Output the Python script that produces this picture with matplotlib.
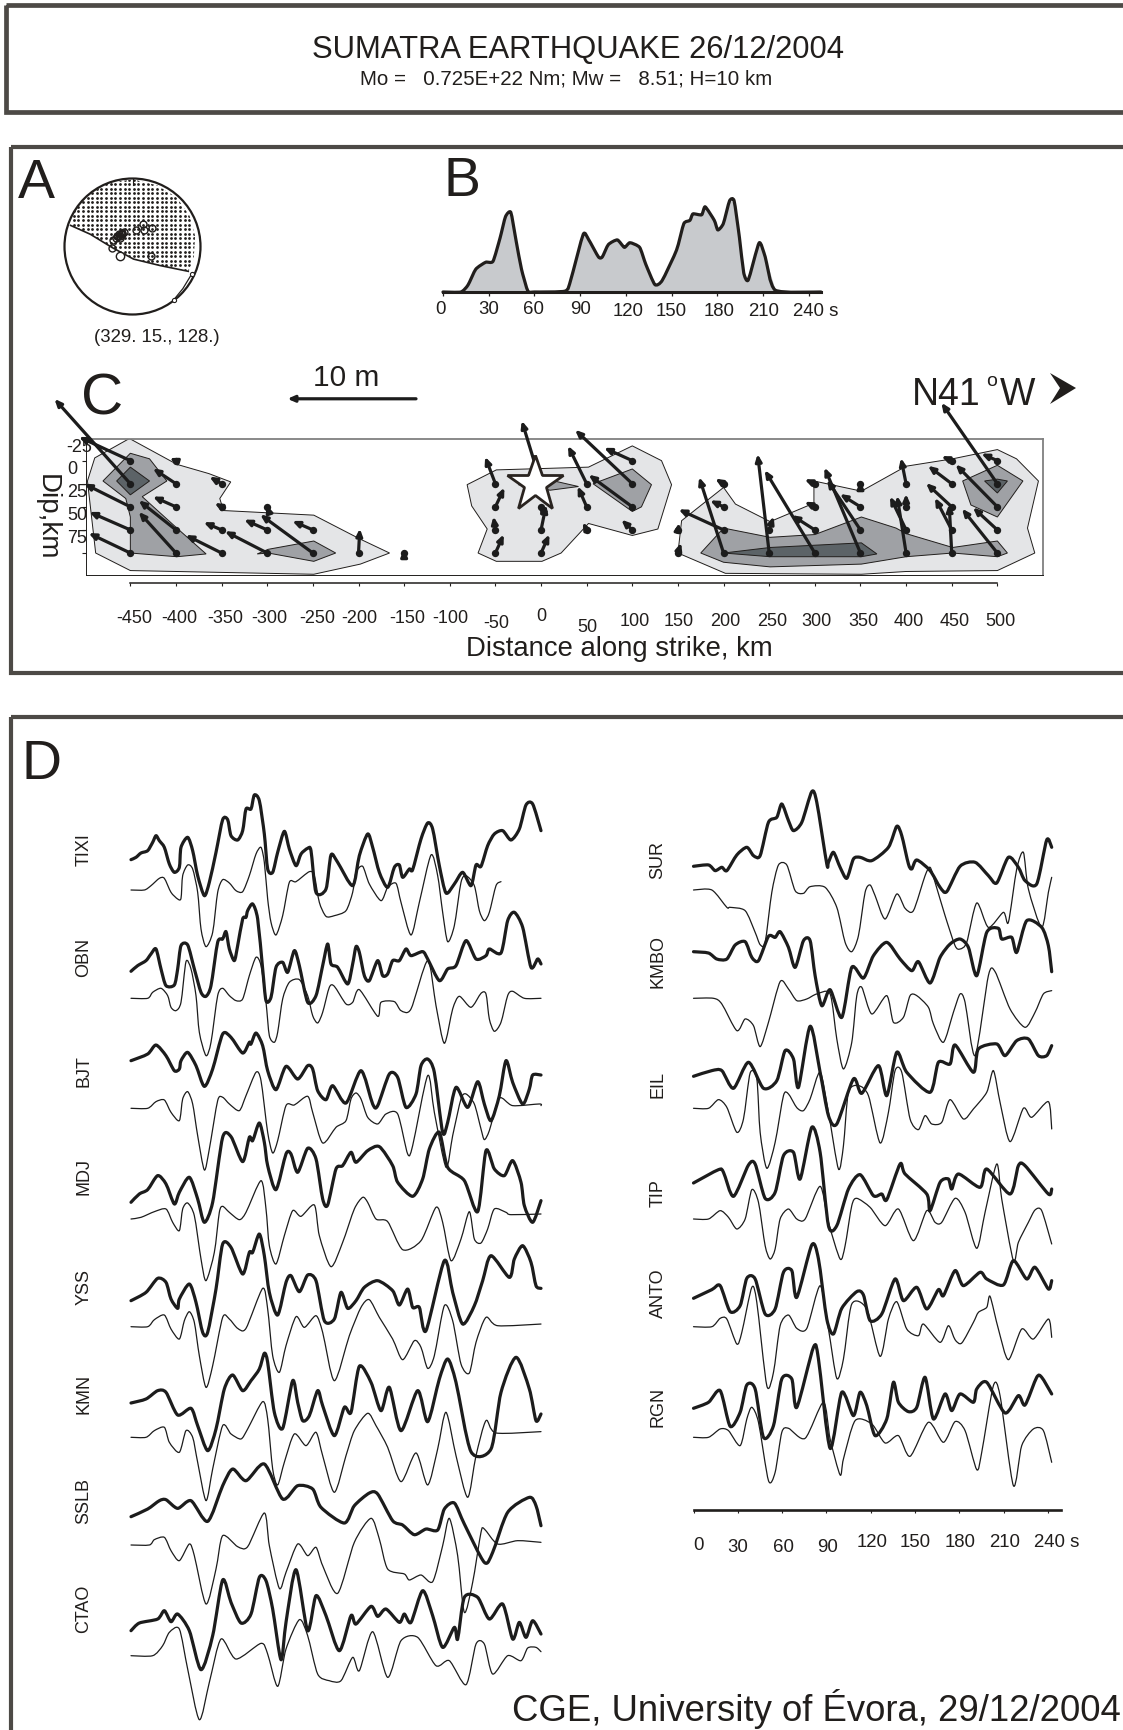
import matplotlib
matplotlib.use('Agg')
import matplotlib.pyplot as plt
from matplotlib.patches import Polygon, Circle, Rectangle, FancyArrowPatch, PathPatch
from matplotlib.path import Path
import numpy as np

W, H = 1123, 1731
INK = '#211e1c'
FRAME = '#4d4a46'
plt.rcParams['font.family'] = ['Liberation Sans', 'DejaVu Sans']

# --- panel A: focal mechanism (unit circle)
nodal_area = [(-0.91, 0.31), (-0.62, 0.18), (-0.30, -0.015), (0.015, -0.185), (0.405, -0.28), (0.82, -0.365),
              (0.90, -0.185), (0.92, 0.156), (0.84, 0.45), (0.65, 0.72), (0.36, 0.90), (0.015, 0.985),
              (-0.375, 0.937), (-0.67, 0.74), (-0.86, 0.52)]
nodal_line = [(-0.91, 0.31), (-0.62, 0.18), (-0.30, -0.015), (0.015, -0.185), (0.405, -0.28), (0.82, -0.365)]
polarity_points = [(-0.25, 0.13), (-0.23, 0.16), (-0.205, 0.18), (-0.18, 0.16), (-0.155, 0.205), (-0.19, 0.13),
                   (-0.155, 0.18), (-0.28, 0.10), (-0.13, 0.215), (-0.21, 0.15), (-0.17, 0.19), (0.05, 0.245), (0.16, 0.33), (0.175, 0.245),
                   (0.28, 0.265), (-0.30, -0.015), (0.275, -0.146)]
polarity_small = [(0.87, -0.405), (0.61, -0.78)]
polarity_white = [(-0.19, -0.137)]
mechanism_label = '(329. 15., 128.)'

# --- panel B: source time function
stf_time = [0, 11.7, 16.4, 21.5, 28, 32.8, 37.5, 41, 44.5, 48, 51.5, 55.7, 60, 80.2, 83.8, 92, 95.5, 102, 104.5,
            108.5, 114.4, 119, 122.6, 129, 133, 139, 143.8, 153.2, 158, 162, 164, 169.7, 172, 178, 180.3, 183.9,
            188, 191, 194.5, 197.3, 200.3, 207.4, 211.4, 218, 248]
stf_amp = [0, 0, 7.5, 24.5, 32, 33, 58.5, 81, 85.6, 54.7, 24.5, 1, 0, 1, 13, 62, 56.5, 37.7, 37.7,
           51, 56, 48, 53, 48, 30, 8, 12.4, 45, 73.5, 77, 84, 83, 91.6, 77, 66.7, 73.5,
           98, 98, 58.4, 20.7, 13, 52.8, 37.7, 2, 0]
stf_ticks = [0, 30, 60, 90, 120, 150, 180, 210, 240]
stf_labels = ['0', '30', '60', '90', '120', '150', '180', '210', '240 s']

# --- panel C: slip model
strike_ticks = [-450, -400, -350, -300, -250, -200, -150, -100, -50, 0, 50, 100, 150, 200, 250, 300, 350, 400, 450, 500]
dip_ticks = [-25, 0, 25, 50, 75]
light_left = [(-489, -28), (-451, -49), (-399, -21), (-364, -11), (-340, -2), (-352, 16), (-348, 29), (-249, 34),
              (-198, 60), (-166, 75), (-198, 87), (-249, 98), (-450, 94), (-488, 75), (-497, -3)]
light_centre = [(-81, 1), (-49, -15), (52, -18), (100, -41), (132, -25), (143, 1), (128, 49), (100, 56), (52, 43),
                (22, 75), (1, 84), (-49, 84), (-69, 75), (-59, 49), (-76, 24)]
light_right = [(150, 75), (154, 40), (200, 4), (213, 22), (251, 41), (299, 21), (299, -3), (351, 8), (400, -19),
               (451, -27), (500, -37), (521, -27), (545, -3), (533, 48), (541, 75), (500, 94), (400, 95), (351, 98), (202, 97)]
mid_left = [(-450, -33), (-429, -27), (-410, -3), (-437, 14), (-399, 48), (-367, 76), (-399, 79), (-450, 75),
            (-450, 36), (-455, 16), (-480, -3)]
mid_left2 = [(-311, 76), (-299, 71), (-249, 62), (-225, 75), (-249, 84), (-299, 75)]
mid_centre = [(-25, 1), (10, -4), (41, 3), (10, 7)]
mid_centre2 = [(57, 0), (100, -16), (121, 1), (110, 25), (100, 30)]
mid_right = [(175, 75), (200, 48), (251, 58), (300, 55), (351, 36), (389, 48), (400, 54), (451, 69), (500, 62),
             (511, 75), (500, 79), (451, 75), (400, 79), (351, 87), (251, 90), (200, 85)]
mid_right2 = [(462, -3), (500, -20), (528, -3), (500, 36), (471, 23)]
dark_left = [(-450, -18), (-429, -3), (-450, 12), (-465, -3)]
dark_right = [(200, 75), (251, 69), (351, 64), (368, 76), (351, 79), (251, 79)]
dark_right2 = [(486, -3), (500, -5), (511, -3), (500, 10)]

# distance km, dip km, slip along strike m, slip up m
slip_vectors = [(-450, -25, -4.0, 1.85), (-450, 0, -5.9, 6.6), (-450, 25, -3.6, 1.8), (-450, 50, -3.2, 1.4), (-450, 75, -3.25, 1.55),
                (-400, -25, -0.5, 0.2), (-400, 0, -1.8, 1.2), (-400, 25, -1.8, 0.8), (-400, 50, -2.9, 2.3), (-400, 75, -2.9, 3.2),
                (-350, 0, -0.95, 0.55), (-350, 25, -0.55, 0.3), (-350, 50, -1.4, 0.6), (-350, 75, -2.8, 1.4),
                (-300, 25, -0.05, 0.15), (-300, 50, -1.8, 0.8), (-300, 75, -3.3, 1.7),
                (-250, 50, -1.6, 0.7), (-250, 75, -4.1, 3.0), (-200, 75, 0.1, 1.9), (-150, 75, 0, 0.3),
                (-50, 0, -0.8, 2.1), (-50, 25, 0.7, 1.5), (-50, 50, -0.15, 1.05), (-50, 75, 0.65, 1.45),
                (0, 0, -1.5, 4.9), (0, 25, -0.1, 0.2), (0, 50, 0.4, 1.95), (0, 75, 0.65, 1.45),
                (50, 0, -1.45, 2.95), (50, 25, -0.7, 1.6), (50, 50, -0.3, 0.6),
                (100, -25, -2.2, 1.0), (100, 0, -4.45, 4.2), (100, 25, -3.4, 2.5), (100, 50, -0.85, 0.8),
                (150, 50, 0.1, 0.55), (150, 75, 0.25, 0.8),
                (200, 0, -0.65, 0.4), (200, 25, -1.05, 0.5), (200, 50, -3.5, 1.6), (200, 75, -1.9, 5.9),
                (250, 50, 0.35, 1.05), (250, 75, -0.9, 7.7),
                (300, 0, -0.8, 0.35), (300, 25, -0.8, 0.4), (300, 50, -1.8, 1.15), (300, 75, -3.9, 6.45),
                (350, 0, 0, 0.2), (350, 25, -1.6, 1.0), (350, 50, -2.6, 3.9), (350, 75, -2.8, 6.65),
                (400, 0, -0.4, 2.0), (400, 25, 0, 1.0), (400, 50, -1.25, 2.6), (400, 75, -0.7, 4.45),
                (450, -25, -0.8, 0.35), (450, 0, -1.85, 1.4), (450, 25, -2.0, 1.85), (450, 50, -1.3, 2.5), (450, 75, -0.2, 3.8),
                (500, -25, -1.25, 0.55), (500, 0, -4.35, 6.3), (500, 25, -3.25, 3.3), (500, 50, -1.9, 1.75), (500, 75, -2.75, 3.45)]

# --- panel D: seismograms, (sample, amplitude) pairs
tixi_obs = [(0, -2), (3, 5), (6, 18), (10, 25), (13, 50), (15, 70), (17, 55), (20, 35), (23, -15), (26, -40), (29, -25), (30, 35), (34, 65), (37, 25), (40, -50), (44, -110), (47, -70), (51, 20), (55, 118), (58, 118), (60, 70), (64, 57), (67, 85), (69, 150), (72, 150), (74, 192), (77, 175), (80, 75), (82, -30), (85, -40), (88, 20), (92, 83), (95, 30), (99, -20), (102, 15), (106, 32), (108, 25), (111, -100), (117, -90), (120, 12), (124, -10), (133, -80), (137, 10), (142, 75), (145, 35), (149, -40), (154, -85), (158, -25), (161, -18), (163, -55), (167, -30), (169, -32), (174, 60), (178, 108), (181, 90), (185, -20), (189, -102), (194, -75), (199, -40), (204, -80), (207, -18), (210, -22), (214, 40), (218, 75), (223, 85), (228, 57), (233, 90), (237, 162), (241, 165), (246, 85)]
tixi_syn = [(0, 0), (8, 0), (12, 13), (17, 35), (20, 35), (24, -7), (28, -27), (30, -25), (31, 43), (34, 75), (37, 63), (40, -7), (42, -117), (45, -170), (49, -127), (52, -7), (55, 31), (59, 21), (63, -2), (67, -5), (71, 43), (75, 108), (78, 128), (80, 83), (82, -27), (84, -97), (87, -135), (91, -77), (95, 23), (99, 25), (107, 55), (110, 43), (113, -37), (117, -79), (122, -77), (129, -62), (133, -7), (135, 53), (139, 71), (143, 18), (150, -32), (154, 8), (159, 20), (162, -37), (168, -135), (173, -37), (180, 105), (184, 43), (187, -67), (190, -155), (194, -107), (198, 23), (201, 43), (206, 13), (209, -62), (212, -92), (215, -67), (219, 13), (222, 25)]
obn_obs = [(0, 0), (4, 17), (9, 32), (12, 52), (15, 67), (18, 7), (21, -43), (26, -41), (28, 7), (30, 77), (34, 79), (38, 7), (42, -63), (45, -75), (48, -43), (52, 87), (55, 97), (57, 119), (59, 67), (62, 32), (64, 77), (67, 157), (69, 162), (70, 182), (73, 202), (76, 157), (79, 7), (81, -88), (84, -78), (87, 12), (91, 27), (94, -3), (98, 62), (101, 17), (106, -93), (111, -73), (115, 17), (118, 82), (120, 22), (124, 12), (130, -38), (133, 22), (135, 74), (137, 57), (140, -13), (143, -28), (148, 32), (151, -13), (154, -8), (157, 32), (161, 32), (165, 67), (168, 47), (175, 59), (178, 37), (185, -28), (190, 7), (195, 17), (201, 92), (207, 37), (213, 47), (215, 67), (222, 55), (226, 152), (230, 177), (235, 132), (240, 12), (244, 37), (246, 22)]
obn_syn = [(0, 0), (10, 0), (13, 18), (18, 30), (22, 8), (24, -27), (27, -37), (30, -12), (33, 110), (36, 88), (39, 8), (41, -102), (45, -172), (48, -132), (52, 8), (55, 30), (59, 8), (63, -7), (67, -2), (71, 68), (75, 123), (78, 98), (81, -12), (83, -112), (86, -132), (88, -102), (91, -2), (95, 48), (101, 56), (106, 8), (109, -52), (112, -74), (115, -42), (119, 33), (122, 36), (129, -17), (133, -12), (137, 26), (148, -54), (150, -12), (158, -10), (162, -37), (168, -32), (178, 113), (183, -22), (188, -135), (193, -32), (197, 6), (204, -27), (210, 15), (213, 13), (215, -62), (218, -99), (222, -72), (226, 8), (229, 21), (236, 0), (246, 0)]
bjt_obs = [(0, 0), (10, 20), (15, 47), (21, 15), (26, -30), (29, -25), (30, 0), (34, 25), (39, -15), (44, -77), (49, -25), (55, 80), (60, 70), (67, 23), (71, 55), (72, 50), (75, 83), (79, 45), (82, -30), (87, -87), (93, -17), (100, -55), (106, -15), (109, -25), (112, -90), (117, -117), (121, -75), (129, -127), (138, -30), (145, -130), (148, -135), (155, -40), (160, -50), (165, -140), (171, -100), (174, -15), (178, 5), (182, -35), (187, -215), (190, -185), (195, -80), (202, -140), (208, -63), (212, -130), (216, -180), (221, -105), (225, 0), (229, -65), (235, -130), (239, -85), (241, -43), (246, -43)]
bjt_syn = [(0, 0), (10, 0), (15, 20), (20, 25), (24, -12), (29, -37), (31, 28), (34, 50), (37, 13), (40, -82), (44, -185), (47, -122), (52, 23), (55, 33), (59, 13), (65, -7), (69, 38), (75, 108), (78, 83), (82, -72), (85, -134), (88, -97), (93, 8), (98, 10), (106, 36), (109, -12), (115, -104), (123, -57), (129, -37), (132, 28), (135, 46), (138, 28), (142, -27), (148, -47), (153, -17), (160, -17), (166, -137), (169, -112), (178, 98), (182, -12), (189, -177), (193, -82), (198, 28), (201, 43), (206, 13), (210, -62), (212, -94), (215, -67), (221, 30), (229, 8), (245, 13), (246, 8)]
mdj_obs = [(0, 0), (5, 25), (10, 38), (16, 80), (21, 55), (26, -5), (29, 30), (35, 75), (40, 10), (44, -60), (49, 0), (55, 195), (60, 197), (67, 122), (71, 195), (73, 185), (77, 238), (80, 180), (82, 110), (87, 38), (93, 145), (96, 145), (100, 90), (106, 162), (111, 130), (115, 10), (118, -8), (123, 100), (127, 110), (132, 150), (135, 120), (142, 155), (149, 167), (157, 110), (160, 60), (169, 18), (175, 70), (179, 160), (185, 210), (190, 105), (200, 65), (208, -28), (213, 155), (218, 100), (224, 80), (229, 125), (234, 60), (236, -10), (241, -60), (246, 5)]
mdj_syn = [(0, 0), (6, 5), (14, 22), (21, 30), (25, -10), (29, -35), (31, 30), (34, 48), (38, 10), (42, -120), (45, -185), (50, -100), (53, 20), (55, 38), (59, 20), (65, -2), (69, 20), (78, 115), (81, 30), (83, -80), (87, -135), (92, -50), (97, 25), (102, 8), (110, 42), (113, -50), (120, -143), (127, -70), (134, 30), (139, 65), (142, 50), (147, 0), (154, -8), (163, -92), (174, -65), (183, 35), (187, -10), (192, -125), (198, -60), (203, 22), (206, -60), (210, -72), (214, -30), (218, 30), (225, 20), (228, 13), (246, 15)]
yss_obs = [(0, 0), (9, 25), (16, 67), (21, 55), (24, 5), (28, -23), (29, 5), (35, 50), (39, -5), (43, -95), (46, -95), (51, 35), (55, 170), (60, 160), (67, 80), (71, 145), (73, 145), (77, 200), (80, 135), (83, 25), (88, -43), (93, 55), (96, 75), (101, 27), (106, 77), (111, 60), (116, -60), (122, -55), (126, 25), (130, -23), (135, 0), (140, 40), (148, 60), (157, 30), (161, -13), (166, 35), (169, -20), (173, -20), (177, -90), (188, 120), (193, 25), (199, -70), (206, -15), (211, 60), (216, 135), (227, 70), (230, 125), (235, 165), (240, 115), (243, 45), (246, 37)]
yss_syn = [(0, 0), (10, 0), (14, 21), (20, 35), (24, -7), (29, -37), (32, 18), (35, 45), (38, 13), (41, -87), (45, -182), (49, -117), (55, 28), (59, 23), (64, -5), (69, -5), (79, 115), (82, 53), (85, -87), (89, -137), (93, -57), (99, 30), (104, -2), (111, 33), (115, -17), (122, -162), (131, -27), (138, 58), (143, 81), (149, 28), (157, -37), (163, -99), (170, -42), (174, -62), (178, -125), (182, -87), (188, 63), (193, 18), (198, -112), (203, -139), (207, -47), (213, 28), (220, 3), (246, 8)]
kmn_obs = [(0, 0), (9, 12), (16, 37), (21, 32), (28, -36), (36, -16), (40, -68), (46, -143), (51, -78), (56, 42), (61, 84), (67, 37), (72, 67), (77, 102), (80, 149), (82, 122), (86, -28), (91, -76), (97, 67), (100, 2), (103, -53), (107, -38), (112, 37), (115, -8), (122, -98), (128, -13), (132, -28), (137, 110), (144, 62), (150, -23), (155, 47), (162, -83), (172, 37), (178, -56), (185, 72), (190, 132), (195, 62), (204, -146), (216, -138), (222, 32), (231, 137), (239, 42), (243, -53), (246, -33)]
kmn_syn = [(0, 0), (9, 0), (14, 20), (20, 30), (23, -15), (29, -45), (33, 20), (37, 0), (40, -75), (45, -190), (49, -95), (55, 35), (60, 10), (66, -5), (70, 25), (79, 107), (82, 55), (85, -95), (88, -143), (92, -75), (98, 10), (105, -25), (111, 15), (115, -55), (122, -165), (129, -55), (134, 20), (142, 72), (147, 35), (154, -30), (162, -133), (171, -47), (178, -143), (184, -35), (189, 75), (195, -55), (202, -180), (207, -55), (213, 50), (219, 13), (246, 17)]
sslb_obs = [(0, 0), (10, 23), (17, 48), (21, 51), (28, 25), (36, 48), (46, -14), (55, 93), (61, 143), (69, 108), (80, 158), (91, 53), (100, 93), (109, 83), (114, 28), (128, -19), (134, 33), (143, 71), (148, 68), (157, -12), (163, -25), (170, -54), (177, -37), (184, -40), (188, 23), (194, 41), (200, -22), (212, -137), (217, -107), (226, 13), (239, 58), (243, 33), (246, -27)]
sslb_syn = [(0, 0), (11, 0), (14, 16), (20, 23), (24, -17), (29, -47), (35, 3), (38, -32), (45, -177), (51, -72), (55, 28), (64, -5), (70, -5), (80, 96), (83, -2), (89, -130), (93, -82), (100, 3), (106, -32), (111, -7), (115, -62), (124, -145), (134, 8), (144, 80), (149, 18), (154, -72), (164, -87), (167, -105), (174, -90), (181, -110), (187, -2), (191, 80), (196, -32), (200, -202), (205, -112), (210, 38), (212, 48), (220, 3), (232, 13), (246, 8)]
ctao_obs = [(0, 0), (5, 23), (16, 35), (20, 60), (24, 27), (28, 50), (35, 0), (42, -117), (49, -15), (55, 152), (60, 85), (66, 23), (72, 50), (77, 160), (81, 150), (85, 65), (90, -87), (93, 25), (99, 183), (106, 0), (111, 105), (117, 45), (125, -60), (132, 45), (135, 20), (144, 73), (148, 43), (153, 65), (161, 25), (164, 50), (168, 25), (175, 120), (181, 45), (187, -50), (194, 10), (196, -25), (200, 100), (208, 100), (215, 35), (223, 80), (229, -25), (233, 25), (237, -20), (241, 30), (246, -10)]
ctao_syn = [(0, 0), (13, 0), (19, 30), (23, 70), (29, 80), (34, -40), (41, -192), (47, -80), (54, 50), (63, -10), (78, 37), (82, 5), (88, -92), (93, 20), (101, 108), (106, 60), (112, -55), (119, -75), (126, -75), (133, -5), (137, -45), (145, 72), (154, -65), (162, 45), (172, 55), (183, -30), (191, -15), (201, -87), (207, 35), (212, 35), (217, -55), (226, 0), (234, -15), (238, 23), (243, 25), (246, 12)]

sur_obs = [(0, 0), (9, 4), (13, -13), (17, -3), (20, -13), (26, 34), (32, 57), (36, 32), (40, 32), (45, 132), (50, 147), (53, 187), (57, 137), (60, 107), (65, 132), (71, 224), (74, 192), (80, 7), (81, 12), (84, 42), (88, -3), (92, -36), (96, 22), (100, 27), (107, 17), (117, 57), (122, 120), (125, 92), (129, 7), (131, -8), (134, 19), (142, -13), (148, -63), (152, -76), (160, 0), (169, 12), (177, -28), (182, -50), (189, 27), (195, -3), (199, -43), (206, -53), (212, 79), (215, 57)]
sur_syn = [(0, 0), (11, 0), (20, -52), (22, -52), (31, -62), (37, -127), (40, -164), (43, -157), (47, -7), (51, 75), (56, 75), (61, -2), (66, -10), (70, 10), (79, 8), (86, -52), (91, -157), (95, -185), (99, -137), (103, -7), (106, 15), (109, -17), (115, -87), (122, -12), (127, -55), (132, -62), (139, 43), (142, 68), (145, 23), (151, -77), (157, -167), (160, -177), (164, -157), (170, -39), (177, -112), (186, -67), (189, -97), (194, 63), (198, 113), (201, 3), (209, -112), (213, -7), (215, 38)]
kmbo_obs = [(0, 0), (9, -4), (14, -22), (20, -22), (25, 20), (31, 30), (35, -17), (39, -27), (45, 46), (49, 43), (52, 60), (57, 13), (61, -47), (66, 33), (70, 33), (73, -72), (77, -162), (82, -114), (89, -197), (95, -47), (102, -79), (108, -12), (116, 28), (124, -22), (131, -57), (135, -30), (142, -94), (148, -17), (154, 23), (160, 38), (165, 13), (170, -72), (176, 58), (183, 70), (185, 38), (191, 43), (194, -2), (200, 93), (209, 73), (213, 18), (215, -60)]
kmbo_syn = [(0, 0), (12, 0), (17, -17), (26, -97), (31, -62), (36, -82), (40, -145), (45, -72), (52, 50), (57, 28), (62, -7), (68, -2), (74, 13), (82, 13), (86, -122), (90, -212), (95, -132), (98, 8), (101, 33), (107, -47), (116, 8), (120, -72), (126, -57), (130, 8), (134, 8), (141, -27), (144, -77), (150, -132), (156, -42), (160, 13), (163, -12), (169, -172), (177, 68), (181, 80), (190, -32), (199, -87), (205, -42), (210, 13), (215, 23)]
eil_obs = [(0, 0), (11, 17), (17, 17), (24, -36), (33, 42), (42, -36), (50, -13), (55, 77), (60, 52), (63, -33), (70, 150), (76, 12), (81, -118), (86, -143), (96, -8), (101, -51), (111, 32), (116, -58), (122, 72), (128, 12), (142, -48), (147, 42), (154, 37), (157, 94), (168, 12), (171, 82), (182, 97), (187, 62), (194, 107), (201, 112), (207, 62), (212, 62), (215, 92)]
eil_syn = [(0, 0), (9, 0), (15, 26), (20, 3), (26, -72), (30, -32), (34, 106), (38, 88), (40, -72), (44, -180), (49, -102), (54, 38), (57, 43), (62, 2), (66, -7), (70, 28), (76, 108), (81, -12), (87, -182), (90, -112), (93, 48), (99, 68), (105, 38), (112, -104), (117, -12), (121, 113), (125, 108), (130, -32), (135, -64), (139, -22), (143, -47), (149, -42), (154, 26), (162, -32), (168, -2), (176, 48), (180, 113), (184, 18), (190, -100), (198, 0), (203, -27), (213, 20), (215, -62)]
tip_obs = [(0, 0), (15, 40), (18, 32), (24, -40), (33, 54), (37, 57), (43, -46), (49, -28), (54, 82), (60, 92), (64, 12), (71, 167), (76, 92), (81, -128), (86, -128), (93, -18), (100, 25), (108, -38), (113, -33), (116, -50), (124, 57), (127, 27), (140, -33), (142, -83), (148, 2), (153, 12), (155, -18), (159, 27), (172, -13), (176, 42), (190, -33), (195, 52), (199, 52), (213, -33), (215, -18)]
tip_syn = [(0, 0), (9, 0), (16, 25), (21, 5), (26, -30), (31, 0), (35, 88), (39, 50), (43, -80), (46, -120), (49, -90), (52, 0), (57, 30), (62, 0), (67, 0), (76, 98), (81, -10), (88, -120), (91, -80), (95, 40), (98, 62), (106, 35), (115, -20), (123, 30), (132, -65), (140, 25), (145, -10), (149, -10), (157, 62), (163, 20), (170, -88), (175, 20), (182, 165), (185, 60), (192, -125), (195, -70), (201, -10), (205, 27), (209, 25), (215, -75)]
anto_obs = [(0, 0), (11, 26), (16, 38), (22, -40), (28, -22), (32, 60), (37, 58), (43, -47), (49, -32), (54, 78), (59, 83), (62, 3), (71, 160), (75, 118), (80, -62), (84, -107), (89, -30), (98, 20), (102, 10), (106, -67), (113, -47), (121, 58), (126, -7), (134, 33), (140, -32), (147, 26), (150, 8), (157, 83), (162, 38), (172, 78), (176, 58), (186, 40), (192, 113), (200, 58), (205, 93), (213, 28), (215, 53)]
anto_syn = [(0, 0), (11, 0), (16, 25), (20, 23), (26, -52), (29, -17), (35, 118), (38, 73), (44, -177), (48, -137), (52, 3), (57, 35), (62, -5), (68, -5), (76, 123), (81, -7), (86, -155), (90, -97), (95, 68), (104, 53), (112, -89), (117, 23), (122, 75), (128, -7), (135, -27), (138, 8), (148, -47), (153, 3), (157, -39), (161, -49), (168, 13), (171, 43), (176, 58), (178, 91), (183, -7), (189, -99), (197, -7), (204, -37), (213, 23), (215, -32)]
rgn_obs = [(0, 0), (9, 18), (16, 53), (22, -54), (28, -12), (32, 70), (37, 58), (42, -87), (48, -52), (53, 88), (59, 88), (62, 3), (72, 183), (75, 148), (82, -120), (89, 48), (96, -22), (100, 48), (104, 8), (109, -82), (116, -32), (120, 78), (123, 18), (129, -10), (134, 3), (139, 93), (144, -32), (151, 43), (155, -7), (160, 43), (168, 18), (170, 58), (176, 78), (187, -14), (195, 38), (199, 10), (206, 93), (209, 93), (215, 43)]
rgn_syn = [(0, 0), (9, 0), (16, 25), (21, 20), (28, -25), (32, 55), (35, 90), (39, 45), (45, -130), (49, -105), (53, 15), (57, 27), (67, -3), (78, 105), (82, -5), (88, -113), (90, -65), (97, 50), (107, 40), (115, -17), (123, 5), (130, -57), (141, 45), (150, -15), (157, 47), (163, 20), (170, -97), (173, -45), (180, 155), (184, 125), (192, -145), (197, -25), (204, 25), (210, 20), (215, -75)]

left_names = ['TIXI', 'OBN', 'BJT', 'MDJ', 'YSS', 'KMN', 'SSLB', 'CTAO']
left_obs = [tixi_obs, obn_obs, bjt_obs, mdj_obs, yss_obs, kmn_obs, sslb_obs, ctao_obs]
left_syn = [tixi_syn, obn_syn, bjt_syn, mdj_syn, yss_syn, kmn_syn, sslb_syn, ctao_syn]
right_names = ['SUR', 'KMBO', 'EIL', 'TIP', 'ANTO', 'RGN']
right_obs = [sur_obs, kmbo_obs, eil_obs, tip_obs, anto_obs, rgn_obs]
right_syn = [sur_syn, kmbo_syn, eil_syn, tip_syn, anto_syn, rgn_syn]
seis_ticks = [0, 30, 60, 90, 120, 150, 180, 210, 240]
seis_labels = ['0', '30', '60', '90', '120', '150', '180', '210', '240 s']

# vertical offsets of the traces on the sheet
left_obs_y = [860, 972.3, 1061.7, 1203.3, 1301.7, 1404, 1517.7, 1631.7]
left_syn_y = [891, 999.3, 1109.3, 1220, 1327.7, 1438.3, 1546, 1656.7]
left_name_y = [850, 957, 1071, 1177, 1287, 1394, 1501, 1609]
right_obs_y = [867.3, 952.7, 1077.3, 1184, 1299.3, 1409.3]
right_syn_y = [891, 999.3, 1109.3, 1220, 1327.7, 1438.3]
right_name_y = [860, 962, 1085, 1193, 1293, 1407]


def ax_px(x0, y0, x1, y1):
    a = fig.add_axes([x0 / W, 1 - y1 / H, (x1 - x0) / W, (y1 - y0) / H])
    a.patch.set_alpha(0)
    return a


def rounded(ax, xs, ys, lw, color, k=0.13):
    # same points, drawn with round corners instead of a straight polyline
    p = np.column_stack([xs, ys])
    verts = [p[0]]
    codes = [Path.MOVETO]
    for i in range(len(p) - 1):
        before = p[max(i - 1, 0)]
        after = p[min(i + 2, len(p) - 1)]
        verts += [p[i] + (p[i + 1] - before) * k, p[i + 1] - (after - p[i]) * k, p[i + 1]]
        codes += [Path.CURVE4, Path.CURVE4, Path.CURVE4]
    ax.add_patch(PathPatch(Path(verts, codes), fill=False, ec=color, lw=lw, capstyle='round',
                           joinstyle='round', clip_on=False))


fig = plt.figure(figsize=(W / 100, H / 100), dpi=100)

# sheet with frames and loose text
page = ax_px(0, 0, W, H)
page.set_xlim(0, W)
page.set_ylim(H, 0)
page.axis('off')
page.add_patch(Rectangle((5.5, 6), 1200, 107, fill=False, ec=FRAME, lw=3.4))
page.add_patch(Rectangle((10.5, 147.5), 1200, 526, fill=False, ec=FRAME, lw=3))
page.add_patch(Rectangle((10.5, 717.5), 1200, 1100, fill=False, ec=FRAME, lw=3))

page.text(578, 50, 'SUMATRA EARTHQUAKE 26/12/2004', fontsize=22.3, color=INK, ha='center', va='center')
page.text(566, 79, 'Mo =   0.725E+22 Nm; Mw =   8.51; H=10 km', fontsize=14.8, color=INK, ha='center', va='center')
page.text(36, 184, 'A', fontsize=40, color=INK, ha='center', va='center')
page.text(462, 182, 'B', fontsize=40, color=INK, ha='center', va='center')
page.text(102, 400, 'C', fontsize=42, color=INK, ha='center', va='center')
page.text(42, 765, 'D', fontsize=40, color=INK, ha='center', va='center')
page.text(157, 338, mechanism_label, fontsize=13.4, color=INK, ha='center', va='center')
page.text(346, 378, '10 m', fontsize=21.5, color=INK, ha='center', va='center')
page.text(912, 405, 'N41', fontsize=27, color=INK, ha='left', va='baseline')
page.text(992, 381, 'o', fontsize=14, color=INK, ha='center', va='center')
page.text(1035, 405, 'W', fontsize=27, color=INK, ha='right', va='baseline')
page.add_patch(Polygon([(1050, 374), (1076, 389), (1050, 405), (1060, 389)], fc=INK, ec='none'))
page.text(619, 649, 'Distance along strike, km', fontsize=19.8, color=INK, ha='center', va='center')
page.text(47, 517, 'Dip,km', fontsize=20, color=INK, ha='center', va='center', rotation=-90)
page.text(512, 1721, 'CGE, University of Évora, 29/12/2004', fontsize=26.3, color=INK, ha='left', va='baseline')

for lab, xr, yc in zip(['-25', '0', '25', '50', '75'], [92, 77, 87, 87, 87], [447.5, 470, 493, 516, 539]):
    page.text(xr, yc, lab, fontsize=13, color=INK, ha='right', va='center')

# A
axA = ax_px(132.5 - 72, 247.5 - 72, 132.5 + 72, 247.5 + 72)
axA.set_xlim(-72 / 68, 72 / 68)
axA.set_ylim(-72 / 68, 72 / 68)
axA.axis('off')
area = Polygon(nodal_area, closed=True, fc='white', ec='none')
axA.add_patch(area)
gx, gy = np.meshgrid(np.arange(-1, 1, 0.068), np.arange(-1, 1, 0.066))
dots = axA.scatter(gx.ravel(), gy.ravel(), s=4.0, marker='o', color=INK, lw=0)
dots.set_clip_path(area)
nx, ny = zip(*nodal_line)
axA.plot(nx, ny, color=INK, lw=1.2)
axA.add_patch(Circle((0, 0), 1, fill=False, ec=INK, lw=1.6))
axA.plot([0, 0], [0.9, 1], color=INK, lw=0.8)
axA.plot([0.88, 0.74, 0.61], [-0.39, -0.62, -0.78], color=INK, lw=0.9)
px, py = zip(*polarity_points)
axA.plot(px, py, 'o', ms=5, mfc='none', mec=INK, mew=1.0, ls='none')
px, py = zip(*polarity_white)
axA.plot(px, py, 'o', ms=6, mfc='white', mec=INK, mew=1.0, ls='none')
px, py = zip(*polarity_small)
axA.plot(px, py, 'o', ms=3, mfc='white', mec=INK, mew=0.8, ls='none')

# B
axB = ax_px(443, 293 - 93, 443 + 378, 293)
axB.set_xlim(0, 248)
axB.set_ylim(0, 100)
axB.fill_between(stf_time, 0, stf_amp, color='#c8cacd', lw=0, clip_on=False)
rounded(axB, stf_time, stf_amp, 2.3, INK, k=0.1)
for s in ['top', 'right', 'left']:
    axB.spines[s].set_visible(False)
axB.spines['bottom'].set_linewidth(2.2)
axB.spines['bottom'].set_color(INK)
axB.set_yticks([])
axB.set_xticks(stf_ticks)
axB.set_xticklabels([])
axB.tick_params(axis='x', length=3, width=0.9, color=INK)
for t, lab, dx, dy in zip(stf_ticks, stf_labels, [-2, 0, -1, 0, 2, 0, 2, 1, 7], [-17, -17, -17, -17, -19, -19, -19, -19, -19]):
    axB.annotate(lab, (t, 0), xytext=(dx, dy), textcoords='offset pixels', fontsize=13.4, color=INK, ha='center', va='center')

# C
axC = ax_px(86, 439.5, 1043, 576)
axC.set_xlim(-498.6, 550)
axC.set_ylim(98.8, -49)
for poly in [light_left, light_centre, light_right]:
    axC.add_patch(Polygon(poly, fc='#e4e5e7', ec=INK, lw=0.7, zorder=1))
for poly in [mid_left, mid_left2, mid_centre, mid_centre2, mid_right, mid_right2]:
    axC.add_patch(Polygon(poly, fc='#9fa1a5', ec=INK, lw=0.7, zorder=1.1))
for poly in [dark_left, dark_right, dark_right2]:
    axC.add_patch(Polygon(poly, fc='#5c6367', ec=INK, lw=0.7, zorder=1.2))
KM_ALONG = 14.09
KM_DOWN = 13.92
HEAD = '-|>,head_length=0.5,head_width=0.22'
for d, z, u, v in slip_vectors:
    axC.add_patch(FancyArrowPatch((d, z), (d + u * KM_ALONG, z - v * KM_DOWN), arrowstyle=HEAD, mutation_scale=8,
                                  lw=2.3, color='#1c1c1c', shrinkA=0, shrinkB=0, clip_on=False, zorder=3))
tail_d = [v[0] for v in slip_vectors]
tail_z = [v[1] for v in slip_vectors]
axC.scatter(tail_d, tail_z, s=28, color='#1c1c1c', lw=0, zorder=4, clip_on=False)
axC.plot([-7], [0], marker='*', ms=42, mfc='white', mec='#2a2420', mew=2.0, zorder=5, ls='none')
axC.add_patch(FancyArrowPatch((-137, -92), (-137 - 10 * KM_ALONG, -92), arrowstyle=HEAD, mutation_scale=8,
                              lw=2.3, color='#1c1c1c', shrinkA=0, shrinkB=0, clip_on=False))
for s in ['top', 'right']:
    axC.spines[s].set_color('#808080')
    axC.spines[s].set_linewidth(1.3)
for s in ['left', 'bottom']:
    axC.spines[s].set_color(INK)
    axC.spines[s].set_linewidth(0.7)
axC.set_xticks([])
axC.set_yticks(dip_ticks)
axC.set_yticklabels([])
axC.tick_params(axis='y', length=3.2, width=0.8, color=INK)

axS = ax_px(86, 583, 1043, 584)
axS.set_xlim(-498.6, 550)
axS.set_yticks([])
for s in ['top', 'right', 'left']:
    axS.spines[s].set_visible(False)
axS.spines['bottom'].set_bounds(-450, 500)
axS.spines['bottom'].set_linewidth(1.1)
axS.spines['bottom'].set_color(INK)
axS.set_xticks(strike_ticks)
axS.set_xticklabels([])
axS.tick_params(axis='x', length=2.5, width=0.8, color=INK)
strike_dx = [4, 3, 4, 2, 4, 1, 3, 1, 1, 0, 1, 2, 1, 2, 3, 2, 3, 3, 3, 3]
strike_dy = [-35, -35, -35, -35, -35, -35, -35, -35, -40, -33, -44, -38, -38, -38, -38, -38, -38, -38, -38, -38]
for d, dx, dy in zip(strike_ticks, strike_dx, strike_dy):
    axS.annotate(str(d), (d, 0), xycoords=('data', 'axes fraction'), xytext=(dx, dy), textcoords='offset pixels',
                 fontsize=13, color=INK, ha='center', va='center')

# D, left column
axL = ax_px(131, 0, 131 + 250 * 5 / 3, H)
axL.set_xlim(0, 250)
axL.set_ylim(H, 0)
axL.axis('off')
for name, obs, syn, y_obs, y_syn, y_name in zip(left_names, left_obs, left_syn, left_obs_y, left_syn_y, left_name_y):
    t, a = np.array(obs, dtype=float).T
    rounded(axL, t, y_obs - a / 3, 2.3, '#1c1c1c')
    t, a = np.array(syn, dtype=float).T
    rounded(axL, t, y_syn - a / 3, 0.9, '#1c1c1c')
    page.text(84, y_name, name, fontsize=13, color=INK, rotation=90, ha='center', va='center')

# D, right column; one sample here is 1.128 s
SAMPLE_S = 1.128
PX_PER_S = 1.477
axR = ax_px(693.5, 0, 693.5 + 260 * PX_PER_S, H)
axR.set_xlim(0, 260)
axR.set_ylim(H, 0)
for name, obs, syn, y_obs, y_syn, y_name in zip(right_names, right_obs, right_syn, right_obs_y, right_syn_y, right_name_y):
    t, a = np.array(obs, dtype=float).T
    rounded(axR, t * SAMPLE_S, y_obs - a / 3, 2.3, '#1c1c1c')
    t, a = np.array(syn, dtype=float).T
    rounded(axR, t * SAMPLE_S, y_syn - a / 3, 0.9, '#1c1c1c')
    page.text(658, y_name, name, fontsize=13, color=INK, rotation=90, ha='center', va='center')
for s in ['top', 'right', 'left']:
    axR.spines[s].set_visible(False)
axR.spines['bottom'].set_position(('data', 1510.7))
axR.spines['bottom'].set_bounds(0, 248.8)
axR.spines['bottom'].set_linewidth(1.9)
axR.spines['bottom'].set_color(INK)
axR.set_yticks([])
axR.set_xticks(seis_ticks)
axR.set_xticklabels([])
axR.tick_params(axis='x', length=2.5, width=0.8, color=INK)
for t, lab, dx, yc in zip(seis_ticks, seis_labels, [5, 0, 1, 1, 1, 0, 1, 1, 9], [1546, 1548, 1548, 1548, 1543, 1543, 1543, 1543, 1543]):
    axR.annotate(lab, (t, 1510.7), xytext=(dx, 1510.7 - yc), textcoords='offset pixels', fontsize=13.4, color=INK, ha='center', va='center')

fig.savefig('out.png', dpi=100)
